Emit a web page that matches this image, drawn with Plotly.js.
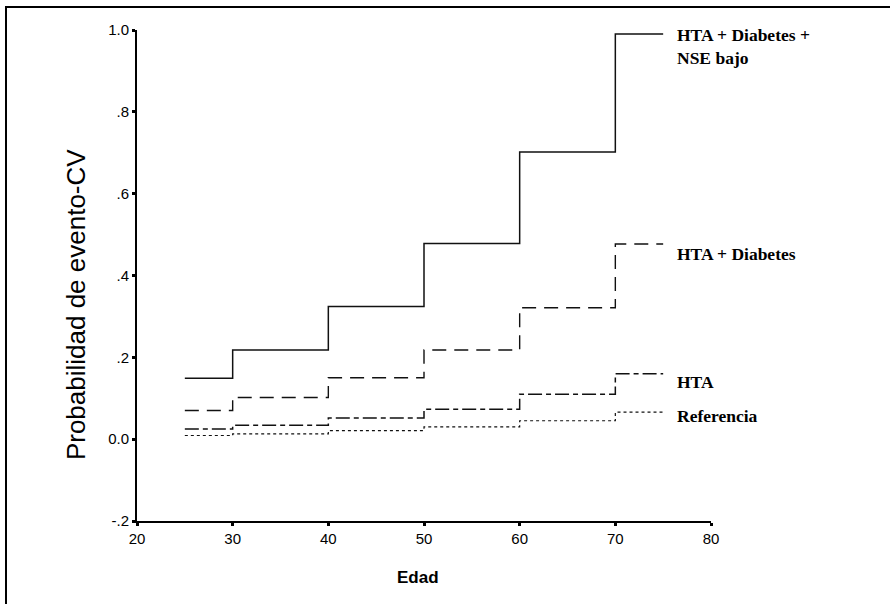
<!DOCTYPE html>
<html>
<head>
<meta charset="utf-8">
<script src="https://cdn.plot.ly/plotly-3.0.1.min.js"></script>
<style>
  html, body { margin: 0; padding: 0; background: #fff; }
  #wrap { position: relative; width: 890px; height: 604px; overflow: hidden; }
  #chart { position: absolute; left: 0; top: 0; width: 890px; height: 604px; }
  #frame { position: absolute; left: 5px; top: 6px; width: 900px; height: 620px;
           border-top: 2px solid #000; border-left: 2px solid #000; pointer-events: none; }
</style>
</head>
<body>
<div id="wrap">
  <div id="chart"></div>
  <div id="frame"></div>
</div>
<script>
// Step edges (Edad)
const ages = [25, 30, 40, 50, 60, 70, 75];

// Probability per age interval (25-30, 30-40, 40-50, 50-60, 60-70, 70-75)
const refValues  = [0.009, 0.013, 0.021, 0.030, 0.045, 0.066];
const htaValues  = [0.025, 0.034, 0.052, 0.073, 0.110, 0.160];
const htaDValues = [0.070, 0.102, 0.150, 0.218, 0.321, 0.477];
const htaDNValues = [0.149, 0.218, 0.324, 0.478, 0.702, 0.990];

const seriesNames = ["Referencia", "HTA", "HTA + Diabetes", "HTA + Diabetes +<br>NSE bajo"];

const yTickVals = [-0.2, 0, 0.2, 0.4, 0.6, 0.8, 1.0];
const yTickText = ["-.2", "0.0", ".2", ".4", ".6", ".8", "1.0"];
const xTickVals = [20, 30, 40, 50, 60, 70, 80];

function stepY(vals) { return vals.concat([vals[vals.length - 1]]); }

const lineColor = "#111";
const styles = [
  { dash: "3px,3px", width: 1.2 },
  { dash: "14px,4px,5px,4px", width: 1.5 },
  { dash: "14px,8px", width: 1.4 },
  { dash: "solid", width: 1.5 }
];
const allVals = [refValues, htaValues, htaDValues, htaDNValues];

const traces = allVals.map((v, i) => ({
  type: "scatter",
  mode: "lines",
  x: ages,
  y: stepY(v),
  line: { shape: "hv", color: lineColor, width: styles[i].width, dash: styles[i].dash },
  name: seriesNames[i],
  showlegend: false,
  hoverinfo: "skip"
}));

const labelFont = { family: "Liberation Serif, Times New Roman, serif", size: 17.5, color: "#000" };
const labelY = [allVals[0][5], allVals[1][5], allVals[2][5], allVals[3][5]];
const labelShift = [-4, -8, -10, 0];
const annotations = seriesNames.map((t, i) => ({
  x: 76.2, y: labelY[i], xref: "x", yref: "y",
  text: "<b>" + t + "</b>",
  showarrow: false, xanchor: "left",
  yanchor: i === 3 ? "top" : "middle",
  yshift: i === 3 ? 11 : labelShift[i],
  align: "left",
  font: labelFont
}));

annotations.push({
  text: "Probabilidad de evento-CV",
  xref: "paper", yref: "paper",
  x: -0.106, y: 0.44,
  showarrow: false, textangle: -90,
  xanchor: "center", yanchor: "middle",
  font: { family: "Liberation Sans, Arial, sans-serif", size: 26, color: "#000" }
});
annotations.push({
  text: "<b>Edad</b>",
  xref: "paper", yref: "paper",
  x: 0.489, y: -0.115,
  showarrow: false,
  xanchor: "center", yanchor: "middle",
  font: { family: "Liberation Sans, Arial, sans-serif", size: 17, color: "#000" }
});

const layout = {
  width: 890, height: 604,
  margin: { l: 137, r: 179, t: 30, b: 83 },
  paper_bgcolor: "rgba(0,0,0,0)",
  plot_bgcolor: "rgba(0,0,0,0)",
  font: { family: "Liberation Sans, Arial, sans-serif", size: 13, color: "#000" },
  xaxis: {
    range: [20, 80], tickvals: xTickVals, ticktext: xTickVals.map(String),
    showgrid: false, zeroline: false, showline: true, linecolor: "#000", linewidth: 2,
    ticks: "outside", ticklen: 3, tickwidth: 3, tickcolor: "#000",
    tickfont: { size: 15 }, fixedrange: true
  },
  yaxis: {
    range: [-0.2, 1.0], tickvals: yTickVals, ticktext: yTickText,
    showgrid: false, zeroline: false, showline: true, linecolor: "#000", linewidth: 2,
    ticks: "outside", ticklen: 3, tickwidth: 3, tickcolor: "#000",
    tickfont: { size: 15 }, fixedrange: true
  },
  annotations: annotations
};

Plotly.newPlot("chart", traces, layout, { displayModeBar: false, staticPlot: true });
</script>
</body>
</html>
